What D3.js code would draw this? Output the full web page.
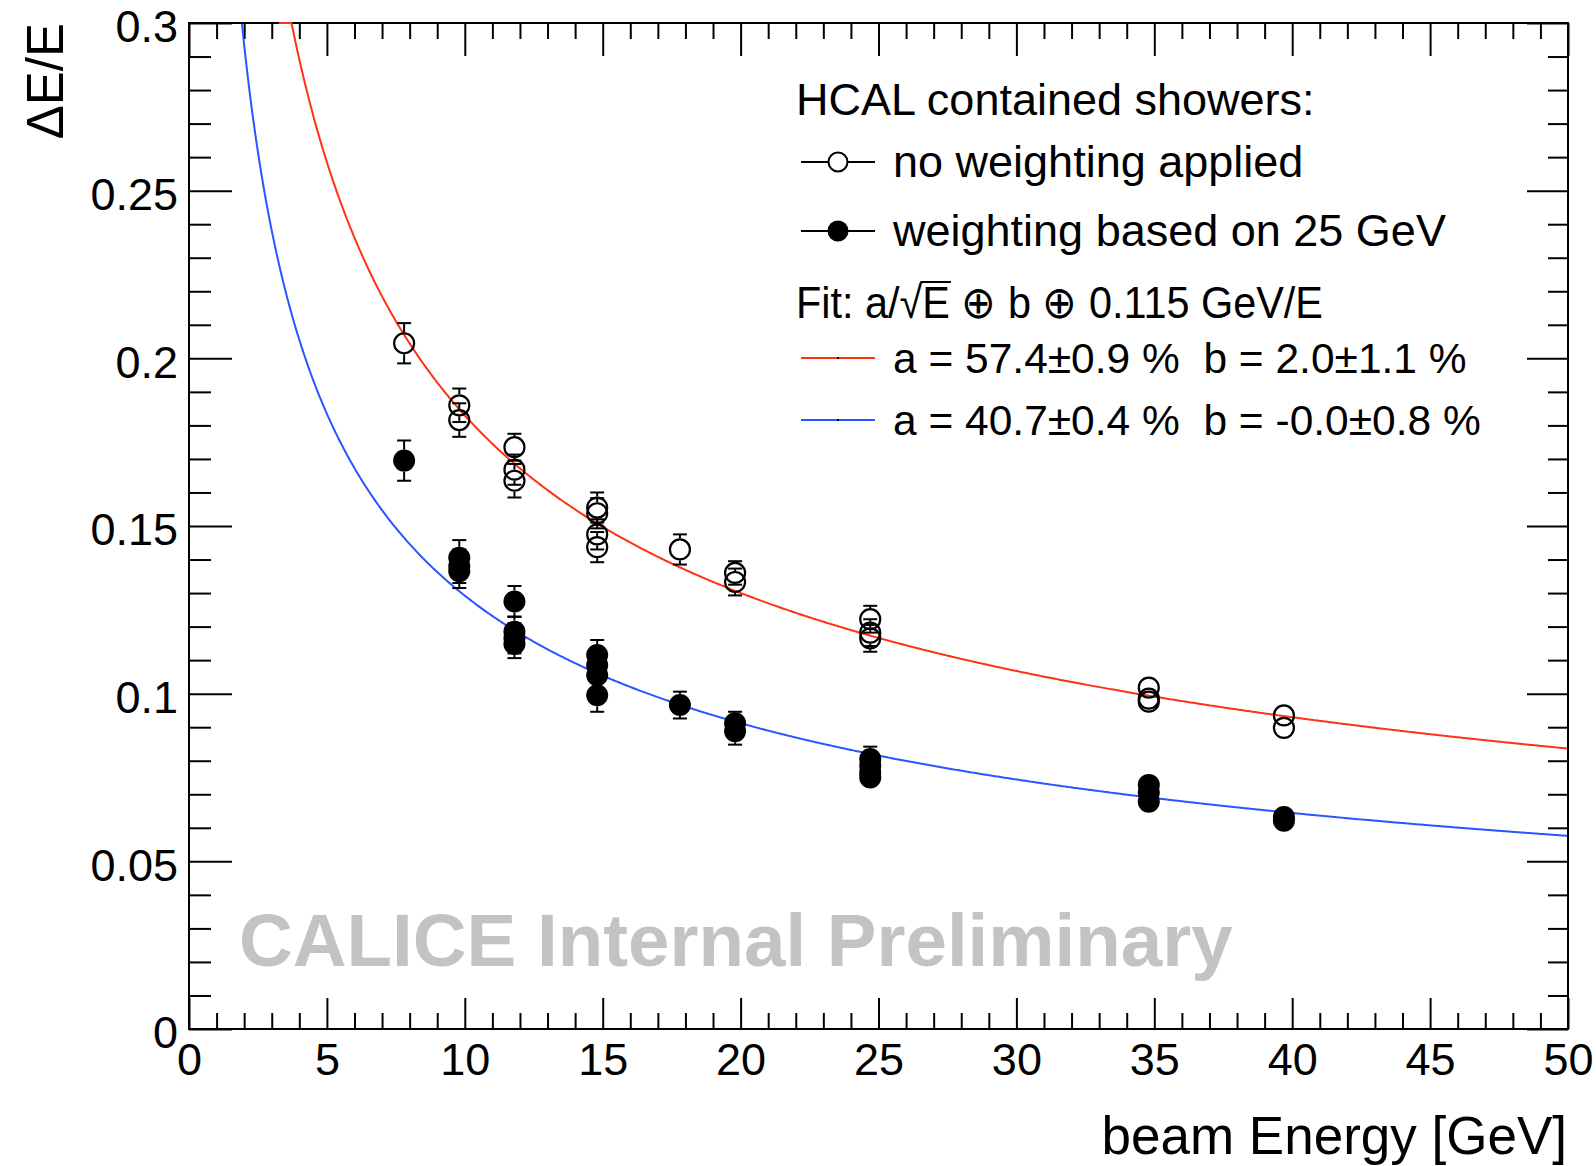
<!DOCTYPE html>
<html>
<head>
<meta charset="utf-8">
<script src="https://cdn.jsdelivr.net/npm/d3@7"></script>
<style>
  html, body { margin: 0; padding: 0; background: #fff; }
  svg text { font-family: "Liberation Sans", Arial, Helvetica, sans-serif; fill: #000; }
</style>
</head>
<body>
<svg id="chart" width="1596" height="1166"></svg>
<script>
// Axis ticks
const xMajorTicks = [0, 5, 10, 15, 20, 25, 30, 35, 40, 45, 50];
const xTickLabels = ["0", "5", "10", "15", "20", "25", "30", "35", "40", "45", "50"];
const yMajorTicks = [0, 0.05, 0.1, 0.15, 0.2, 0.25, 0.3];
const yTickLabels = ["0", "0.05", "0.1", "0.15", "0.2", "0.25", "0.3"];

// Resolution without weighting (open circles)
const noWeightEnergy = [7.8, 9.8, 9.8, 11.8, 11.8, 11.8, 14.8, 14.8, 14.8, 14.8, 17.8, 19.8, 19.8, 24.7, 24.7, 24.7, 34.8, 34.8, 34.8, 39.7, 39.7];
const noWeightRes    = [0.2045, 0.186, 0.1816, 0.1735, 0.1668, 0.1635, 0.1555, 0.1538, 0.1475, 0.1437, 0.143, 0.136, 0.1333, 0.1222, 0.1182, 0.1165, 0.1018, 0.0985, 0.0976, 0.0935, 0.0898];
const noWeightErr    = [0.006, 0.005, 0.005, 0.004, 0.0045, 0.005, 0.0045, 0.0045, 0.0045, 0.0045, 0.0045, 0.0035, 0.004, 0.004, 0.004, 0.004, 0.003, 0.003, 0.003, 0.003, 0.003];

// Resolution with weighting based on 25 GeV (filled circles)
const weightEnergy = [7.8, 9.8, 9.8, 9.8, 11.8, 11.8, 11.8, 11.8, 14.8, 14.8, 14.8, 14.8, 17.8, 19.8, 19.8, 24.7, 24.7, 24.7, 24.7, 34.8, 34.8, 34.8, 39.7, 39.7];
const weightRes    = [0.1695, 0.1405, 0.138, 0.1365, 0.1275, 0.1185, 0.1165, 0.1148, 0.1115, 0.1085, 0.1055, 0.0995, 0.0966, 0.0912, 0.0888, 0.0805, 0.0785, 0.0765, 0.075, 0.0728, 0.0705, 0.0678, 0.0632, 0.0621];
const weightErr    = [0.006, 0.0053, 0.005, 0.005, 0.0046, 0.0045, 0.0045, 0.0042, 0.0045, 0.0045, 0.0045, 0.0049, 0.004, 0.0034, 0.004, 0.0037, 0.003, 0.003, 0.0027, 0.003, 0.003, 0.003, 0.003, 0.003];

// Fit parameters: a/sqrt(E) (+) b (+) c/E, with the energy range each function is drawn over
const fitNoiseTerm = 0.115;
const fitNoWeight = { a: 0.574, b: 0.020 };
const fitWeight   = { a: 0.407, b: 0.000 };
const fitNoWeightRange = [3.26, 50];
const fitWeightRange   = [1.92, 50];

const RED = "#ff3214";
const BLUE = "#2a55ff";

const svg = d3.select("#chart");
svg.append("rect").attr("width", 1596).attr("height", 1166).attr("fill", "#fff");

const plotL = 189, plotR = 1568, plotT = 23, plotB = 1029;
const x = d3.scaleLinear().domain([0, 50]).range([plotL, plotR]);
const y = d3.scaleLinear().domain([0, 0.3]).range([plotB, plotT]);

const xMinor = d3.range(0, 51).filter(v => v % 5 !== 0);
const yMinor = d3.range(0, 31).filter(v => v % 5 !== 0).map(v => v / 100);

function styleAxis(g) {
  g.attr("font-size", null).attr("font-family", null);
  g.select(".domain").remove();
  g.selectAll(".tick line").attr("stroke", "#000").attr("stroke-width", 2);
  g.selectAll(".tick text").attr("font-size", 45).attr("fill", "#000");
}

// Watermark
svg.append("text")
  .attr("x", 239).attr("y", 966)
  .attr("font-size", 74.5).attr("font-weight", "bold")
  .style("fill", "#c3c3c3")
  .text("CALICE Internal Preliminary");

// Bottom axis
svg.append("g").attr("transform", `translate(0,${plotB})`)
  .call(d3.axisBottom(x).tickValues(xMajorTicks).tickSize(-31).tickPadding(14)
        .tickFormat((d, i) => xTickLabels[i]))
  .call(styleAxis);
svg.append("g").attr("transform", `translate(0,${plotB})`)
  .call(d3.axisBottom(x).tickValues(xMinor).tickSize(-16).tickFormat(""))
  .call(styleAxis);

// Top axis
svg.append("g").attr("transform", `translate(0,${plotT})`)
  .call(d3.axisTop(x).tickValues(xMajorTicks).tickSize(-33).tickFormat(""))
  .call(styleAxis);
svg.append("g").attr("transform", `translate(0,${plotT})`)
  .call(d3.axisTop(x).tickValues(xMinor).tickSize(-16).tickFormat(""))
  .call(styleAxis);

// Left axis
svg.append("g").attr("transform", `translate(${plotL},0)`)
  .call(d3.axisLeft(y).tickValues(yMajorTicks).tickSize(-43).tickPadding(11)
        .tickFormat((d, i) => yTickLabels[i]))
  .call(styleAxis)
  .call(g => g.selectAll(".tick text").attr("dy", "0.42em"));
svg.append("g").attr("transform", `translate(${plotL},0)`)
  .call(d3.axisLeft(y).tickValues(yMinor).tickSize(-22).tickFormat(""))
  .call(styleAxis);

// Right axis
svg.append("g").attr("transform", `translate(${plotR},0)`)
  .call(d3.axisRight(y).tickValues(yMajorTicks).tickSize(-41).tickFormat(""))
  .call(styleAxis);
svg.append("g").attr("transform", `translate(${plotR},0)`)
  .call(d3.axisRight(y).tickValues(yMinor).tickSize(-20).tickFormat(""))
  .call(styleAxis);

// Frame
svg.append("rect")
  .attr("x", plotL).attr("y", plotT)
  .attr("width", plotR - plotL).attr("height", plotB - plotT)
  .attr("fill", "none").attr("stroke", "#000").attr("stroke-width", 2);

// Axis titles
svg.append("text")
  .attr("transform", `translate(63,${plotT}) rotate(-90)`)
  .attr("text-anchor", "end")
  .attr("font-size", 51)
  .text("ΔE/E");
svg.append("text")
  .attr("x", plotR - 1).attr("y", 1154)
  .attr("text-anchor", "end")
  .attr("font-size", 53)
  .text("beam Energy [GeV]");

// Fit curves (values above the frame are held at its top edge)
svg.append("clipPath").attr("id", "plot-clip")
  .append("rect").attr("x", plotL).attr("y", plotT - 1)
  .attr("width", plotR - plotL).attr("height", plotB - plotT + 1);

const resolution = p => e => Math.sqrt(Math.pow(p.a / Math.sqrt(e), 2) + p.b * p.b + Math.pow(fitNoiseTerm / e, 2));
const fitLine = d3.line().x(d => x(d[0])).y(d => y(Math.min(d[1], 0.3)));

[[fitNoWeight, fitNoWeightRange, RED], [fitWeight, fitWeightRange, BLUE]].forEach(([p, range, col]) => {
  const f = resolution(p);
  const grid = d3.range(range[0], range[1] + 1e-6, 0.05);
  svg.append("path")
    .attr("clip-path", "url(#plot-clip)")
    .attr("d", fitLine(grid.map(e => [e, f(e)])))
    .attr("fill", "none").attr("stroke", col).attr("stroke-width", 2);
});

// Data points with error bars
const R = 11, CAP = 7;
function drawSeries(E, V, ERR, filled) {
  const g = svg.append("g");
  E.forEach((e, i) => {
    const cx = x(e), cy = y(V[i]);
    const yt = y(V[i] + ERR[i]), yb = y(V[i] - ERR[i]);
    if (cy - yt > R) {
      g.append("line").attr("x1", cx).attr("x2", cx).attr("y1", yt).attr("y2", cy - R)
        .attr("stroke", "#000").attr("stroke-width", 2);
      g.append("line").attr("x1", cx - CAP).attr("x2", cx + CAP).attr("y1", yt).attr("y2", yt)
        .attr("stroke", "#000").attr("stroke-width", 2);
    }
    if (yb - cy > R) {
      g.append("line").attr("x1", cx).attr("x2", cx).attr("y1", cy + R).attr("y2", yb)
        .attr("stroke", "#000").attr("stroke-width", 2);
      g.append("line").attr("x1", cx - CAP).attr("x2", cx + CAP).attr("y1", yb).attr("y2", yb)
        .attr("stroke", "#000").attr("stroke-width", 2);
    }
  });
  E.forEach((e, i) => {
    g.append("circle").attr("cx", x(e)).attr("cy", y(V[i])).attr("r", filled ? R : R - 1)
      .attr("fill", filled ? "#000" : "none")
      .attr("stroke", "#000").attr("stroke-width", filled ? 0 : 2.2);
  });
}
drawSeries(noWeightEnergy, noWeightRes, noWeightErr, false);
drawSeries(weightEnergy, weightRes, weightErr, true);

// Legend
const legX = 796, lineX1 = 801, lineX2 = 875, textX = 893, fs = 45;
const leg = svg.append("g").attr("font-size", fs);
leg.append("text").attr("x", legX).attr("y", 115).text("HCAL contained showers:");

function legendMarker(cy, filled) {
  leg.append("line").attr("x1", lineX1).attr("x2", lineX2).attr("y1", cy).attr("y2", cy)
    .attr("stroke", "#000").attr("stroke-width", 2);
  leg.append("circle").attr("cx", (lineX1 + lineX2) / 2).attr("cy", cy).attr("r", filled ? 10.5 : 9.5)
    .attr("fill", filled ? "#000" : "#fff").attr("stroke", "#000").attr("stroke-width", filled ? 0 : 2);
}
legendMarker(162, false);
leg.append("text").attr("x", textX).attr("y", 177).text("no weighting applied");
legendMarker(231, true);
leg.append("text").attr("x", textX).attr("y", 246).text("weighting based on 25 GeV");

// Fit formula, with an overbar drawn across the radical
const fitY = 318;
const fitPrefix = "Fit: a/";
const fitText = leg.append("text").attr("x", legX).attr("y", fitY)
  .attr("textLength", 527).attr("lengthAdjust", "spacingAndGlyphs")
  .text(fitPrefix + "√E ⊕ b ⊕ 0.115 GeV/E");
{
  const node = fitText.node();
  const ext = node.getExtentOfChar(fitPrefix.length);
  const extE = node.getExtentOfChar(fitPrefix.length + 1);
  const yTop = fitY - fs * 0.80;
  leg.append("line")
    .attr("x1", ext.x + ext.width - 2).attr("x2", extE.x + extE.width + 1)
    .attr("y1", yTop).attr("y2", yTop)
    .attr("stroke", "#000").attr("stroke-width", 2);
}

function legendFit(cy, col, label) {
  leg.append("line").attr("x1", lineX1).attr("x2", lineX2).attr("y1", cy).attr("y2", cy)
    .attr("stroke", col).attr("stroke-width", 2);
  leg.append("rect").attr("x", (lineX1 + lineX2) / 2 - 1).attr("y", cy - 1).attr("width", 2).attr("height", 2)
    .attr("fill", "#000");
  leg.append("text").attr("x", textX).attr("y", cy + 15).attr("font-size", 42.5).text(label);
}
const NBSP2 = "\u00A0\u00A0";
legendFit(358, RED, `a = ${(fitNoWeight.a * 100).toFixed(1)}±0.9 %${NBSP2}b = ${(fitNoWeight.b * 100).toFixed(1)}±1.1 %`);
legendFit(420, BLUE, `a = ${(fitWeight.a * 100).toFixed(1)}±0.4 %${NBSP2}b = -${(fitWeight.b * 100).toFixed(1)}±0.8 %`);
</script>
</body>
</html>
